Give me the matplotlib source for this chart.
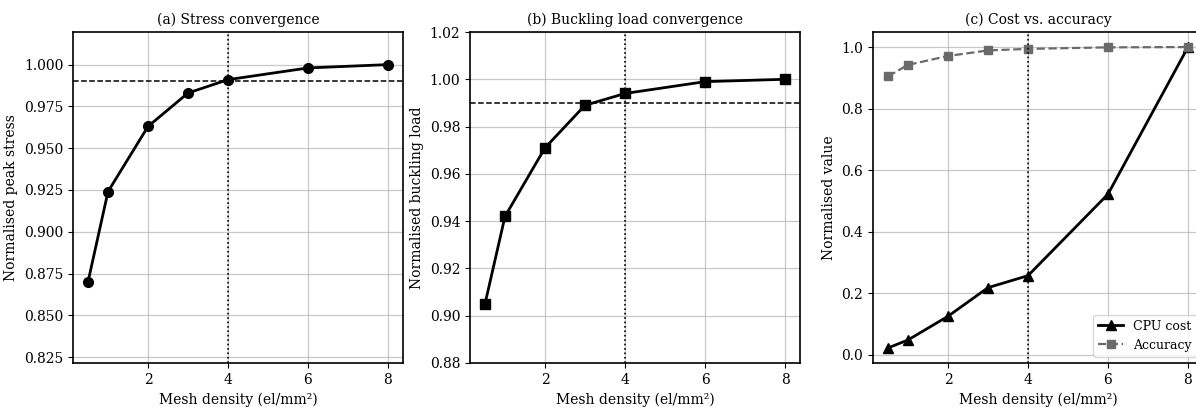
import numpy as np
import matplotlib.pyplot as plt

plt.rcParams['font.family'] = 'DejaVu Serif'
plt.rcParams['font.size'] = 10

# mesh density (el/mm^2)
density = [0.5, 1, 2, 3, 4, 6, 8]

# normalised results
peak_stress = [0.870, 0.924, 0.963, 0.983, 0.991, 0.998, 1.000]
buckling_load = [0.905, 0.942, 0.971, 0.989, 0.994, 0.999, 1.000]
cpu_cost = [0.022, 0.048, 0.125, 0.218, 0.257, 0.522, 1.000]
accuracy = [0.905, 0.942, 0.971, 0.989, 0.994, 0.999, 1.000]

threshold = 0.99
chosen_density = 4

fig = plt.figure(figsize=(11.96, 4.07), dpi=100)
W, H = 1196.0, 407.0
lefts = [73, 470, 873]
axes = [fig.add_axes([l / W, 44 / H, 330 / W, 331 / H]) for l in lefts]

# (a) stress
ax = axes[0]
ax.plot(density, peak_stress, 'k-o', lw=2, ms=7)
ax.axhline(threshold, color='k', ls='--', lw=1.1)
ax.axvline(chosen_density, color='k', ls=':', lw=1.2)
ax.set_ylim(0.8215, 1.0195)
ax.set_yticks([0.825, 0.85, 0.875, 0.9, 0.925, 0.95, 0.975, 1.0])
ax.set_title('(a) Stress convergence', fontsize=10)
ax.set_ylabel('Normalised peak stress')

# (b) buckling
ax = axes[1]
ax.plot(density, buckling_load, 'k-s', lw=2, ms=7)
ax.axhline(threshold, color='k', ls='--', lw=1.1)
ax.axvline(chosen_density, color='k', ls=':', lw=1.2)
ax.set_ylim(0.88, 1.02)
ax.set_title('(b) Buckling load convergence', fontsize=10)
ax.set_ylabel('Normalised buckling load')

# (c) cost vs accuracy
ax = axes[2]
ax.plot(density, cpu_cost, 'k-^', lw=2, ms=7, label='CPU cost')
ax.plot(density, accuracy, '--s', color='#6a6a6a', lw=1.6, ms=6, label='Accuracy')
ax.axvline(chosen_density, color='k', ls=':', lw=1.2)
ax.set_title('(c) Cost vs. accuracy', fontsize=10)
ax.set_ylabel('Normalised value')
ax.legend(loc='lower right', fontsize=9)

for ax in axes:
    ax.set_xlim(0.125, 8.375)
    ax.set_xlabel('Mesh density (el/mm²)')
    ax.set_xticks([2, 4, 6, 8])
    ax.grid(True, color='#bbbbbb', lw=0.9, alpha=0.8)
    for s in ax.spines.values():
        s.set_linewidth(1.2)

plt.savefig('out.png', dpi=100)
